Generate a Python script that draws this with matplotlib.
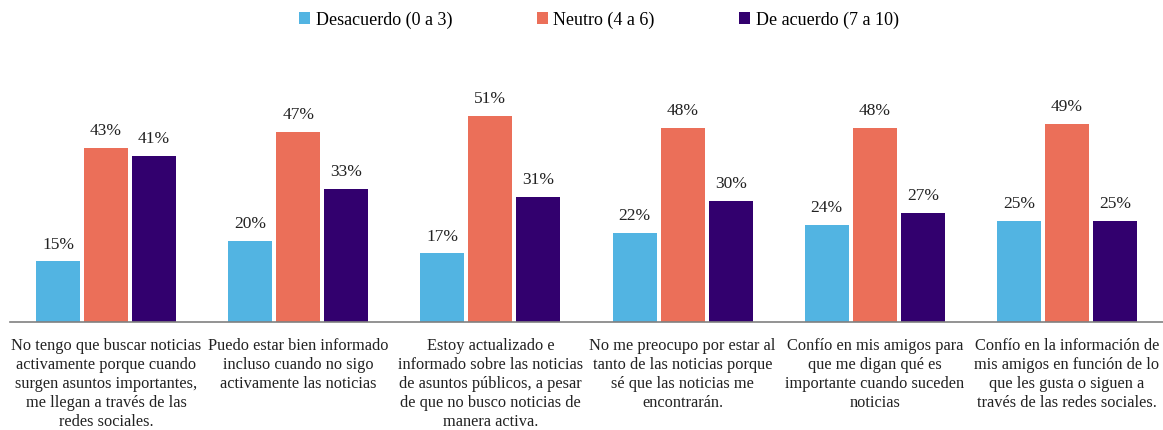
import numpy as np
import matplotlib.pyplot as plt

categories = [
    "No tengo que buscar noticias\nactivamente porque cuando\nsurgen asuntos importantes,\nme llegan a través de las\nredes sociales.",
    "Puedo estar bien informado\nincluso cuando no sigo\nactivamente las noticias",
    "Estoy actualizado e\ninformado sobre las noticias\nde asuntos públicos, a pesar\nde que no busco noticias de\nmanera activa.",
    "No me preocupo por estar al\ntanto de las noticias porque\nsé que las noticias me\nencontrarán.",
    "Confío en mis amigos para\nque me digan qué es\nimportante cuando suceden\nnoticias",
    "Confío en la información de\nmis amigos en función de lo\nque les gusta o siguen a\ntravés de las redes sociales.",
]
desacuerdo = [15, 20, 17, 22, 24, 25]
neutro = [43, 47, 51, 48, 48, 49]
de_acuerdo = [41, 33, 31, 30, 27, 25]

series = [
    ("Desacuerdo (0 a 3)", desacuerdo, "#52B4E2"),
    ("Neutro (4 a 6)", neutro, "#EB6F59"),
    ("De acuerdo (7 a 10)", de_acuerdo, "#32006E"),
]

plt.rcParams['font.family'] = ['Liberation Serif', 'DejaVu Serif']

fig = plt.figure(figsize=(11.63, 4.31), dpi=100)
ax = fig.add_axes([0.0086, 0.2506, 0.9914, 0.61])

x = np.arange(len(categories))
width = 0.229
pitch = 0.25
for i, (name, vals, color) in enumerate(series):
    bars = ax.bar(x + (i - 1) * pitch, vals, width, color=color, label=name)
    ax.bar_label(bars, labels=[f"{v}%" for v in vals], padding=7,
                 fontsize=12.5, color="#222222")

ax.set_xlim(-0.5, 5.5)
ax.set_ylim(0, 65)
ax.set_yticks([])
ax.set_xticks(x)
ax.set_xticklabels(categories, fontsize=11.8, linespacing=1.24, color="#222222")
ax.tick_params(axis='x', length=0, pad=11)
for s in ["top", "right", "left"]:
    ax.spines[s].set_visible(False)
ax.spines["bottom"].set_color("#808080")
ax.spines["bottom"].set_linewidth(1.2)

fig.legend(loc="upper center", bbox_to_anchor=(0.515, 1.01), ncol=3,
           frameon=False, fontsize=13, handlelength=0.6, handleheight=0.6,
           handletextpad=0.3, columnspacing=4.7)

fig.savefig("out.png", dpi=100)
